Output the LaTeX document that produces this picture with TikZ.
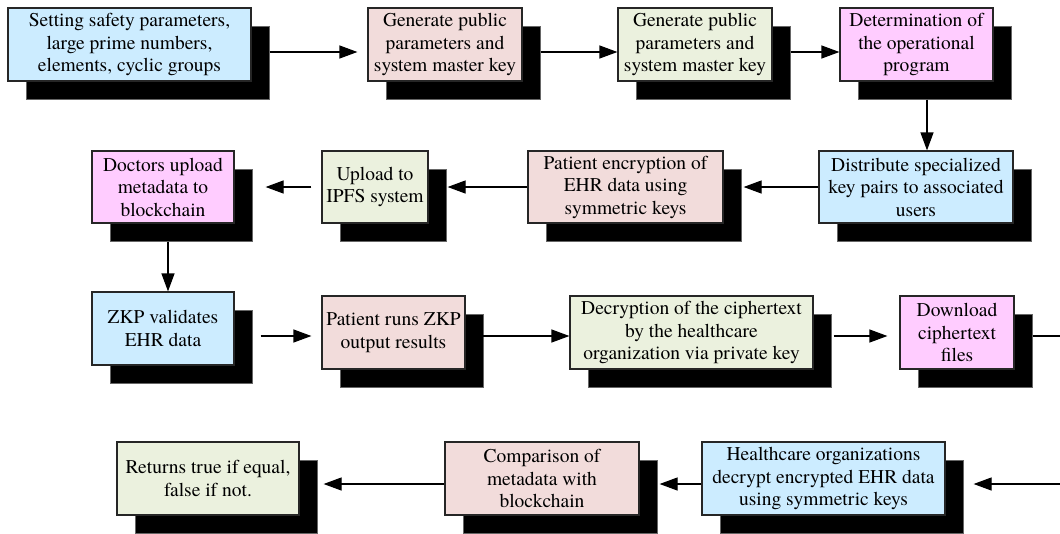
\documentclass[tikz,border=0pt]{standalone}
\usepackage{fontspec}
\setmainfont{TeX Gyre Termes}
\usetikzlibrary{arrows.meta,shadows}
\definecolor{cblue}{HTML}{CCECFF}
\definecolor{crose}{HTML}{F2DCDB}
\definecolor{cgreen}{HTML}{EBF1DE}
\definecolor{cpink}{HTML}{FFCCFF}
\tikzset{
  stepbox/.style={draw=black!85, line width=1.2pt, rectangle, inner sep=0pt,
    minimum height=73pt, align=center,
    font=\rmfamily\fontsize{19.5}{22.5}\selectfont,
    general shadow={fill=black, draw=black!60, line width=0.6pt, shadow xshift=18pt, shadow yshift=-18pt}},
  arr/.style={line width=1.2pt, -{Triangle[length=18pt,width=13pt]}},
  plain/.style={line width=1.2pt}
}
\begin{document}
\begin{tikzpicture}[x=1pt,y=-1pt]
\useasboundingbox (0,0) rectangle (1060,533);
% first row
\node[stepbox, fill=cblue,  minimum width=243pt] (n1) at (129.5,44.5) {Setting safety parameters,\\large prime numbers,\\elements, cyclic groups};
\node[stepbox, fill=crose,  minimum width=154pt] (n2) at (445,44.5) {Generate public\\parameters and\\system master key};
\node[stepbox, fill=cgreen, minimum width=154pt] (n3) at (695,44.5) {Generate public\\parameters and\\system master key};
\node[stepbox, fill=cpink,  minimum width=153pt] (n4) at (916.5,44.5) {Determination of\\the operational\\program};
% second row
\node[stepbox, fill=cblue,  minimum width=194pt, minimum height=72pt] (n5) at (916,187) {Distribute specialized\\key pairs to associated\\users};
\node[stepbox, fill=crose,  minimum width=195pt, minimum height=72pt] (n6) at (625.5,187) {Patient encryption of\\EHR data using\\symmetric keys};
\node[stepbox, fill=cgreen, minimum width=106pt, minimum height=72pt] (n7) at (375,187) {Upload to\\IPFS system};
\node[stepbox, fill=cpink,  minimum width=142pt, minimum height=72pt] (n8) at (163,187) {Doctors upload\\metadata to\\blockchain};
% third row
\node[stepbox, fill=cblue,  minimum width=142pt] (n9)  at (163,328.5) {ZKP validates\\EHR data};
\node[stepbox, fill=crose,  minimum width=143pt] (n10) at (393.5,332.5) {Patient runs ZKP\\output results};
\node[stepbox, fill=cgreen, minimum width=243pt] (n11) at (691.5,332.5) {Decryption of the ciphertext\\by the healthcare\\organization via private key};
\node[stepbox, fill=cpink,  minimum width=114pt] (n12) at (957,332.5) {Download\\ciphertext\\files};
% fourth row
\node[stepbox, fill=cblue,  minimum width=243pt] (n13) at (823.5,478.5) {Healthcare organizations\\decrypt encrypted EHR data\\using symmetric keys};
\node[stepbox, fill=crose,  minimum width=194pt] (n14) at (542,478.5) {Comparison of\\metadata with\\blockchain};
\node[stepbox, fill=cgreen, minimum width=182pt] (n15) at (208,478.5) {Returns true if equal,\\false if not.};
% loose ends running off the right side
\coordinate (e1) at (1060,336);
\coordinate (e2) at (1060,484);
% connectors
\draw[arr] ([shift={(18,7.5)}]n1.east) -- ([shift={(-10,7.5)}]n2.west);
\draw[arr] ([shift={(18,7.5)}]n2.east) -- ([shift={(0,7.5)}]n3.west);
\draw[arr] ([shift={(18,7.5)}]n3.east) -- ([shift={(0,7.5)}]n4.west);
\draw[arr] ([shift={(10.5,18)}]n4.south) -- ([shift={(11,0)}]n5.north);
\draw[arr] (n5.west) -- ([shift={(20,0)}]n6.east);
\draw[arr] (n6.west) -- ([shift={(19,0)}]n7.east);
\draw[arr] ([shift={(-10,0)}]n7.west) -- ([shift={(31,0)}]n8.east);
\draw[arr] ([shift={(5,18)}]n8.south) -- ([shift={(5,0)}]n9.north);
\draw[arr] ([shift={(26,7.5)}]n9.east) -- ([shift={(-10,3.5)}]n10.west);
\draw[arr] ([shift={(17,3.5)}]n10.east) -- ([shift={(0,3.5)}]n11.west);
\draw[arr] ([shift={(20,3.5)}]n11.east) -- ([shift={(-12,3.5)}]n12.west);
\draw[plain] ([shift={(18,3.5)}]n12.east) -- (e1);
\draw[arr] (e2) -- ([shift={(28,5.5)}]n13.east);
\draw[arr] ([shift={(0,5.5)}]n13.west) -- ([shift={(20,5.5)}]n14.east);
\draw[arr] ([shift={(0,5.5)}]n14.west) -- ([shift={(24,5.5)}]n15.east);
\end{tikzpicture}
\end{document}
